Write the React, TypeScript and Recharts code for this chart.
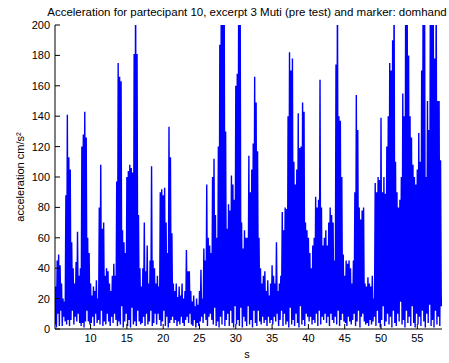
import React from 'react';
import { LineChart, Line, XAxis, YAxis } from 'recharts';

const sampleStart = 5.1;
const sampleStep = 0.1;

// acceleration samples (cm/s^2), one every 0.1 s from 5.1 s to 58.4 s
const acceleration: number[] = [
  3, 28, 1, 45, 10, 49, 2, 42, 12,
  30, 2, 20, 8, 18, 5, 88, 3, 141, 6,
  113, 2, 105, 6, 57, 12, 40, 3, 30, 8,
  44, 5, 64, 10, 35, 4, 40, 2, 120, 4,
  128, 1, 143, 5, 126, 12, 60, 5, 50, 3,
  30, 4, 22, 8, 28, 2, 25, 10, 32, 4,
  20, 6, 80, 3, 108, 12, 66, 2, 70, 5,
  35, 3, 40, 10, 38, 5, 30, 2, 25, 8,
  35, 4, 43, 10, 35, 6, 97, 2, 175, 5,
  166, 3, 163, 15, 65, 1, 57, 5, 50, 10,
  100, 2, 104, 6, 108, 1, 106, 14, 103, 3,
  181, 5, 230, 2, 181, 12, 75, 5, 40, 3,
  28, 4, 40, 8, 70, 2, 38, 10, 55, 3,
  30, 5, 45, 12, 107, 2, 45, 4, 40, 10,
  30, 3, 35, 10, 28, 6, 90, 2, 92, 5,
  88, 12, 93, 2, 70, 8, 50, 1, 133, 4,
  113, 6, 63, 8, 30, 4, 25, 6, 30, 2,
  21, 5, 28, 3, 22, 8, 30, 4, 20, 2,
  25, 6, 52, 8, 38, 4, 38, 10, 25, 3,
  18, 2, 22, 6, 15, 1, 20, 4, 16, 2,
  25, 5, 39, 8, 20, 4, 53, 10, 45, 6,
  95, 2, 60, 8, 55, 10, 50, 6, 100, 3,
  112, 14, 75, 2, 60, 5, 120, 1, 187, 8,
  230, 3, 235, 12, 230, 2, 130, 6, 66, 10,
  82, 2, 78, 12, 101, 4, 95, 1, 85, 15,
  160, 3, 168, 6, 230, 2, 225, 14, 70, 1,
  53, 8, 65, 5, 60, 2, 60, 15, 114, 3,
  90, 6, 105, 1, 122, 12, 166, 4, 149, 2,
  117, 12, 60, 5, 40, 3, 30, 8, 35, 4,
  38, 6, 25, 2, 32, 8, 22, 4, 30, 6,
  42, 3, 35, 8, 30, 5, 57, 10, 25, 2,
  30, 6, 35, 12, 77, 2, 65, 10, 80, 3,
  79, 5, 140, 1, 182, 14, 170, 3, 178, 6,
  110, 2, 95, 10, 105, 4, 142, 1, 119, 15,
  120, 3, 149, 6, 143, 2, 70, 10, 65, 8,
  60, 5, 50, 8, 40, 3, 55, 6, 60, 4,
  87, 10, 80, 2, 85, 12, 164, 3, 80, 8,
  55, 6, 60, 10, 65, 4, 55, 8, 70, 2,
  80, 10, 75, 6, 70, 4, 45, 8, 174, 3,
  230, 12, 140, 2, 137, 6, 100, 10, 49, 5,
  35, 4, 45, 2, 43, 8, 45, 5, 40, 3,
  30, 6, 45, 10, 90, 2, 154, 5, 131, 12,
  80, 1, 72, 8, 78, 10, 80, 5, 30, 3,
  28, 4, 34, 2, 30, 6, 28, 3, 35, 5,
  20, 8, 96, 2, 90, 12, 100, 4, 98, 1,
  139, 6, 90, 15, 100, 2, 89, 5, 120, 10,
  140, 3, 175, 8, 170, 1, 190, 12, 230, 4,
  110, 2, 90, 10, 80, 5, 85, 18, 100, 3,
  155, 6, 140, 1, 230, 12, 230, 4, 180, 8,
  140, 2, 126, 15, 108, 4, 100, 1, 95, 10,
  105, 3, 129, 8, 110, 2, 170, 12, 230, 5,
  230, 1, 100, 10, 150, 4, 131, 16, 230, 2,
  230, 6, 210, 1, 178, 12, 230, 3, 150, 8,
  150, 2, 111, 15, 20,
];

const xTicks = [10, 15, 20, 25, 30, 35, 40, 45, 50, 55];
const yTicks = [0, 20, 40, 60, 80, 100, 120, 140, 160, 180, 200];
const xDomain: [number, number] = [5.1, 58.4];
const yDomain: [number, number] = [0, 200];

const title = 'Acceleration for partecipant 10, excerpt 3 Muti (pre test) and marker: domhand';
const xLabel = 's';
const yLabel = 'acceleration cm/s²';

const data = acceleration.map((v, i) => ({
  t: Math.round((sampleStart + i * sampleStep) * 100) / 100,
  a: v,
}));

const font = '"Liberation Sans", Arial, Helvetica, sans-serif';
const tickStyle = { fontSize: 11, fill: '#000', fontFamily: font };

export default function App() {
  return (
    <div style={{ position: 'absolute', left: 0, top: 0, width: 449, height: 363, background: '#fff' }}>
      <div
        style={{
          position: 'absolute', left: 0, width: 494, top: 5, textAlign: 'center',
          fontFamily: font, fontSize: 11.5, lineHeight: '14px', color: '#000', whiteSpace: 'nowrap',
        }}
      >
        {title}
      </div>
      <div
        style={{
          position: 'absolute', left: 247, top: 347, transform: 'translateX(-50%)',
          fontFamily: font, fontSize: 11, lineHeight: '14px', color: '#000',
        }}
      >
        {xLabel}
      </div>
      <div
        style={{
          position: 'absolute', left: 20, top: 177, transform: 'translate(-50%, -50%) rotate(-90deg)',
          fontFamily: font, fontSize: 11, lineHeight: '14px', color: '#000', whiteSpace: 'nowrap',
        }}
      >
        {yLabel}
      </div>
      <LineChart
        width={449}
        height={363}
        data={data}
        margin={{ top: 25, right: 7, left: 0, bottom: 0 }}
        style={{ position: 'absolute', left: 0, top: 0 }}
      >
        <XAxis
          xAxisId="bottom"
          dataKey="t"
          type="number"
          domain={xDomain}
          ticks={xTicks}
          allowDataOverflow
          height={34}
          tickSize={-5}
          tickMargin={10}
          stroke="#000"
          tick={tickStyle}
          interval={0}
        />
        <XAxis
          xAxisId="top"
          orientation="top"
          dataKey="t"
          type="number"
          domain={xDomain}
          ticks={xTicks}
          allowDataOverflow
          height={0}
          tickSize={-5}
          tickFormatter={() => ''}
          stroke="#000"
          interval={0}
        />
        <YAxis
          yAxisId="left"
          type="number"
          domain={yDomain}
          ticks={yTicks}
          allowDataOverflow
          width={55}
          tickSize={-5}
          tickMargin={10}
          stroke="#000"
          tick={tickStyle}
          interval={0}
        />
        <YAxis
          yAxisId="right"
          orientation="right"
          type="number"
          domain={yDomain}
          ticks={yTicks}
          allowDataOverflow
          width={0}
          tickSize={-5}
          tickFormatter={() => ''}
          stroke="#000"
          interval={0}
        />
        <Line
          xAxisId="bottom"
          yAxisId="left"
          type="linear"
          dataKey="a"
          stroke="#0000ff"
          strokeWidth={1.4}
          strokeLinejoin="bevel"
          dot={false}
          isAnimationActive={false}
        />
      </LineChart>
    </div>
  );
}
